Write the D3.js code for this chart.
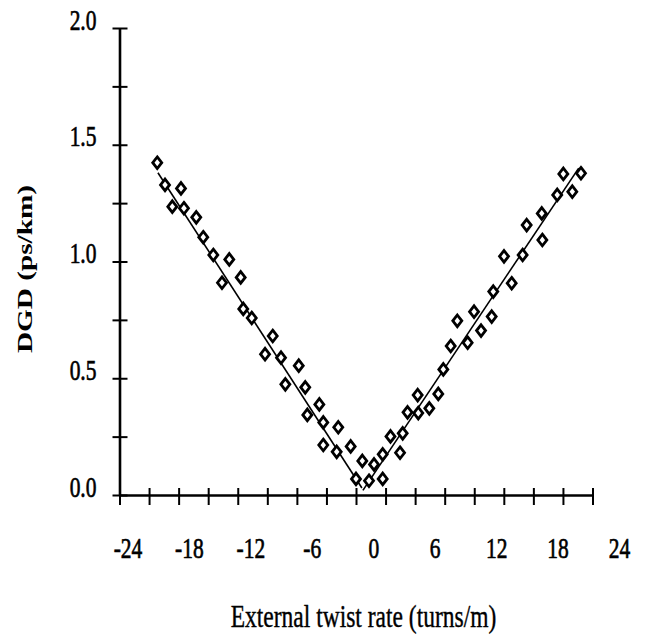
<!DOCTYPE html>
<html>
<head>
<meta charset="utf-8">
<script src="https://cdn.jsdelivr.net/npm/d3@7"></script>
<style>
body { margin: 0; background: #fff; }
svg { display: block; }
text { font-family: "Liberation Serif", "Times New Roman", serif; fill: #000; }
</style>
</head>
<body>
<svg id="chart" width="658" height="636"></svg>
<script>
// measured points (twist rate in turns/m, DGD in ps/km)
var twistRate = [-20.17, -19.38, -17.76, -18.64, -17.46, -16.21, -15.50, -14.48, -12.86, -13.60,
    -11.70, -11.44, -10.58, -8.45, -9.23, -7.61, -5.81, -7.17, -5.15, -3.72,
    -4.94, -3.32, -1.80, -3.32, -1.96, -0.54, 0.64, 0.00, 1.32, 1.83,
    2.71, 2.71, 3.50, 4.47, 4.74, 5.23, 6.32, 6.26, 7.44, 8.35,
    8.86, 9.61, 10.28, 11.33, 11.98, 12.69, 13.77, 13.93, 15.80, 15.02,
    16.91, 18.91, 17.32, 18.85, 20.42, 21.95, 21.04, 22.83];
var dgd = [1.423, 1.328, 1.313, 1.235, 1.228, 1.189, 1.104, 1.028, 1.009, 0.909,
    0.932, 0.797, 0.758, 0.681, 0.603, 0.588, 0.554, 0.474, 0.461, 0.388,
    0.343, 0.311, 0.290, 0.214, 0.185, 0.208, 0.146, 0.069, 0.061, 0.131,
    0.069, 0.174, 0.251, 0.181, 0.264, 0.354, 0.351, 0.428, 0.371, 0.433,
    0.538, 0.638, 0.746, 0.652, 0.785, 0.704, 0.764, 0.871, 0.907, 1.022,
    1.028, 1.092, 1.156, 1.206, 1.285, 1.299, 1.375, 1.378];

// linear fits, one for each sign of the twist
var fitLeftX = [-20.1, 0.6];
var fitLeftY = [1.38, 0.03];
var fitRightX = [0.7, 22.6];
var fitRightY = [0.02, 1.40];

var xTicks = d3.range(-24, 25, 3);
var xLabels = [-24, -18, -12, -6, 0, 6, 12, 18, 24];
var yTicks = d3.range(0, 2.01, 0.25);
var yLabels = [0, 0.5, 1, 1.5, 2];

var svg = d3.select("#chart");
var stretch = 1.36; // the original picture is taller than it is wide

var x = d3.scaleLinear().domain([-24, 24]).range([119.5, 592.5]);
var y = d3.scaleLinear().domain([0, 2]).range([495, 28]);
// tick labels in the original sit on a slightly wider spacing than the ticks
var xLabel = d3.scaleLinear().domain([-24, 24]).range([127.5, 619]);

// x axis
var gx = svg.append("g")
    .attr("transform", "translate(0," + y(0) + ")")
    .call(d3.axisBottom(x).tickValues(xTicks).tickSizeOuter(0)
        .tickFormat(function(d) { return xLabels.indexOf(d) >= 0 ? String(d) : ""; }));
gx.select(".domain").attr("stroke", "#000").attr("stroke-width", 2.6);
gx.selectAll(".tick line").attr("y1", -7).attr("y2", 10)
    .attr("stroke", "#000").attr("stroke-width", 2);
gx.selectAll(".tick text")
    .attr("x", 0).attr("y", 0).attr("dy", null)
    .attr("font-size", 21.5)
    .attr("font-family", "Liberation Serif, serif")
    .attr("stroke", "#000").attr("stroke-width", 0.5)
    .attr("transform", function(d) {
        return "translate(" + (xLabel(d) - x(d)) + ",63) scale(1," + stretch + ")";
    });

// y axis
var gy = svg.append("g")
    .attr("transform", "translate(" + x(-24) + ",0)")
    .call(d3.axisLeft(y).tickValues(yTicks).tickSizeOuter(0)
        .tickFormat(function(d) { return yLabels.indexOf(d) >= 0 ? d3.format(".1f")(d) : ""; }));
gy.select(".domain").attr("stroke", "#000").attr("stroke-width", 2.6);
gy.selectAll(".tick line").attr("x1", -7).attr("x2", 8)
    .attr("stroke", "#000").attr("stroke-width", 2);
gy.selectAll(".tick text")
    .attr("x", 0).attr("y", 0).attr("dy", null)
    .attr("text-anchor", "end")
    .attr("font-size", 21.5)
    .attr("font-family", "Liberation Serif, serif")
    .attr("stroke", "#000").attr("stroke-width", 0.5)
    .attr("transform", "translate(-23,1) scale(1," + stretch + ")");

// fitted lines
var line = d3.line()
    .x(function(d) { return x(d[0]); })
    .y(function(d) { return y(d[1]); });

[[fitLeftX, fitLeftY], [fitRightX, fitRightY]].forEach(function(f) {
    svg.append("path")
        .attr("d", line(d3.zip(f[0], f[1])))
        .attr("fill", "none")
        .attr("stroke", "#000")
        .attr("stroke-width", 1.6);
});

// diamonds
var diamond = "M0,-5.8L4.5,0L0,5.8L-4.5,0Z";
svg.append("g").selectAll("path")
    .data(d3.zip(twistRate, dgd))
    .join("path")
    .attr("d", diamond)
    .attr("transform", function(d) { return "translate(" + x(d[0]) + "," + y(d[1]) + ")"; })
    .attr("fill", "#fff")
    .attr("stroke", "#000")
    .attr("stroke-width", 2.8);

// axis titles
svg.append("text")
    .attr("text-anchor", "middle")
    .attr("font-size", 23.5)
    .attr("stroke", "#000").attr("stroke-width", 0.3)
    .attr("transform", "translate(363.5,627) scale(1," + stretch + ")")
    .text("External twist rate (turns/m)");

svg.append("text")
    .attr("text-anchor", "middle")
    .attr("font-size", 21.5)
    .attr("font-weight", "bold")
    .attr("transform", "translate(32,269) rotate(-90) scale(" + stretch + ",1)")
    .text("DGD (ps/km)");
</script>
</body>
</html>
